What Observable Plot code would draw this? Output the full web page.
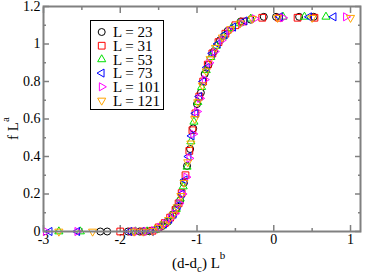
<!DOCTYPE html>
<html>
<head>
<meta charset="utf-8">
<script src="https://cdn.jsdelivr.net/npm/d3@7"></script>
<script src="https://cdn.jsdelivr.net/npm/@observablehq/plot@0.6"></script>
<style>
  html, body { margin: 0; padding: 0; background: #fff; }
  svg { display: block; }
  svg text { font-family: 'Liberation Serif', 'Times New Roman', serif; }
</style>
</head>
<body>
<div id="chart"></div>
<script>
// ---- Data ----
const seriesNames = ["L = 23", "L = 31", "L = 53", "L = 73", "L = 101", "L = 121"];

const x23 = [-2.26,-2.17,-1.9,-1.75,-1.62,-1.52,-1.45,-1.38,-1.32,-1.27,-1.22,-1.17,-1.13,-1.09,-1.05,-1.0,-0.95,-0.9,-0.85,-0.78,-0.7,-0.6,-0.43,-0.3,-0.13,0.03,0.33,0.52];
const y23 = [0,0,0,0,0.001,0.012,0.03,0.052,0.09,0.125,0.165,0.26,0.35,0.44,0.55,0.68,0.74,0.84,0.89,0.96,1.02,1.07,1.12,1.13,1.145,1.145,1.145,1.145];

const x31 = [-2.0,-1.85,-1.7,-1.58,-1.5,-1.42,-1.35,-1.28,-1.24,-1.2,-1.15,-1.1,-1.06,-1.02,-0.97,-0.92,-0.86,-0.8,-0.72,-0.63,-0.5,-0.4,-0.15,0.07,0.31,0.53];
const y31 = [0,0,0,0.004,0.022,0.045,0.074,0.115,0.15,0.205,0.3,0.43,0.54,0.63,0.72,0.8,0.89,0.95,1.01,1.055,1.1,1.12,1.14,1.14,1.14,1.14];

const x53 = [-2.8,-2.52,-1.8,-1.65,-1.55,-1.47,-1.4,-1.33,-1.27,-1.22,-1.18,-1.13,-1.08,-1.04,-0.99,-0.94,-0.88,-0.82,-0.75,-0.66,-0.55,-0.45,-0.3,0.12,0.4,0.68];
const y53 = [0,0,0,0,0.008,0.03,0.05,0.082,0.12,0.175,0.24,0.345,0.48,0.585,0.69,0.77,0.86,0.93,0.99,1.04,1.085,1.11,1.135,1.145,1.145,1.145];

const x73 = [-2.92,-2.56,-1.88,-1.72,-1.6,-1.5,-1.43,-1.36,-1.3,-1.25,-1.2,-1.16,-1.11,-1.07,-1.02,-0.97,-0.92,-0.87,-0.8,-0.73,-0.64,-0.53,-0.38,0.08,0.46,0.78];
const y73 = [0,0,0,0,0,0.02,0.04,0.066,0.096,0.138,0.2,0.275,0.4,0.51,0.63,0.72,0.8,0.875,0.95,1.0,1.05,1.09,1.123,1.145,1.145,1.145];

const x101 = [-2.97,-2.56,-1.78,-1.66,-1.56,-1.48,-1.41,-1.34,-1.29,-1.23,-1.19,-1.14,-1.1,-1.05,-1.0,-0.96,-0.9,-0.84,-0.77,-0.68,-0.58,-0.42,-0.25,0.12,0.94];
const y101 = [0,0,0,0,0.005,0.022,0.042,0.07,0.095,0.15,0.2,0.29,0.39,0.52,0.64,0.71,0.81,0.9,0.96,1.02,1.07,1.11,1.135,1.14,1.145];

const x121 = [-2.8,-2.36,-1.82,-1.7,-1.58,-1.5,-1.44,-1.37,-1.31,-1.26,-1.21,-1.17,-1.12,-1.08,-1.03,-0.99,-0.93,-0.88,-0.83,-0.76,-0.67,-0.56,-0.44,-0.28,0.05,0.5,1.0];
const y121 = [0,0,0,0,0.003,0.02,0.038,0.062,0.09,0.13,0.19,0.26,0.37,0.47,0.6,0.69,0.78,0.855,0.92,0.98,1.035,1.08,1.11,1.135,1.14,1.14,1.14];

const xMajor = [-3, -2, -1, 0, 1];
const xMinor = [-2.5, -1.5, -0.5, 0.5];
const yMajor = [0, 0.2, 0.4, 0.6, 0.8, 1, 1.2];
const yMinor = [0.1, 0.3, 0.5, 0.7, 0.9, 1.1];

// ---- Styles ----
const colors = ["#000000", "#ff0000", "#00e000", "#0000ff", "#ff00ff", "#ffa500"];
const symbols = ["circle", "square", "triangle", "triangle", "triangle", "triangle"];
const rotations = [0, 0, 0, -90, 90, 180];
const radii = [3.5, 3.8, 3, 3, 3, 3];
const xs = [x23, x31, x53, x73, x101, x121];
const ys = [y23, y31, y53, y73, y101, y121];
const axisColor = "#808080";

const tables = xs.map((xa, i) => xa.map((x, j) => ({x, y: ys[i][j], s: seriesNames[i]})));

const dotMarks = tables.map((t, i) => Plot.dot(t, {
  x: "x", y: "y", symbol: () => symbols[i], r: radii[i],
  stroke: colors[i], strokeWidth: 1, fill: "none", rotate: rotations[i]
}));

const tickOpts = {text: null, stroke: axisColor, strokeWidth: 1.5, label: null};

const chart = Plot.plot({
  width: 366,
  height: 276,
  marginLeft: 43,
  marginRight: 6,
  marginTop: 6,
  marginBottom: 45,
  style: {background: "#fff"},
  x: {domain: [-3, 1.13]},
  y: {domain: [0, 1.2]},
  symbol: {type: "identity"},
  marks: [
    // inward ticks, all four sides
    Plot.axisX({anchor: "bottom", ticks: xMajor, tickSize: -6, ...tickOpts}),
    Plot.axisX({anchor: "bottom", ticks: xMinor, tickSize: -3, ...tickOpts}),
    Plot.axisX({anchor: "top", ticks: xMajor, tickSize: -6, ...tickOpts}),
    Plot.axisX({anchor: "top", ticks: xMinor, tickSize: -3, ...tickOpts}),
    Plot.axisY({anchor: "left", ticks: yMajor, tickSize: -6, ...tickOpts}),
    Plot.axisY({anchor: "left", ticks: yMinor, tickSize: -3, ...tickOpts}),
    Plot.axisY({anchor: "right", ticks: yMajor, tickSize: -6, ...tickOpts}),
    Plot.axisY({anchor: "right", ticks: yMinor, tickSize: -3, ...tickOpts}),
    // tick labels
    Plot.axisX({anchor: "bottom", ticks: xMajor, tickSize: 0, tickPadding: 3, tickFormat: d => String(d), fontSize: 14, fill: "#000", label: null}),
    Plot.axisY({anchor: "left", ticks: yMajor, tickSize: 0, tickPadding: 3, tickFormat: d => String(d), fontSize: 14, fill: "#000", label: null}),
    ...dotMarks,
    Plot.frame({stroke: axisColor, strokeWidth: 2})
  ]
});

document.getElementById("chart").appendChild(chart);

// ---- Axis titles & legend (added to the Plot SVG) ----
const svg = d3.select(chart);

const xl = svg.append("text")
  .attr("x", 172).attr("y", 268).attr("text-anchor", "start")
  .attr("font-size", 15).attr("fill", "#000");
xl.append("tspan").text("(d-d");
xl.append("tspan").attr("font-size", 11).attr("dy", 4).text("c");
xl.append("tspan").attr("dy", -4).text(") L");
xl.append("tspan").attr("font-size", 11).attr("dy", -9).text("b");

const yl = svg.append("text")
  .attr("transform", "translate(18,140) rotate(-90)").attr("text-anchor", "start")
  .attr("font-size", 15).attr("fill", "#000");
yl.append("tspan").text("f L");
yl.append("tspan").attr("font-size", 11).attr("dy", -9).text("a");

const lg = svg.append("g");
lg.append("rect")
  .attr("x", 90.5).attr("y", 20.5).attr("width", 73).attr("height", 89)
  .attr("fill", "#fff").attr("stroke", "#000").attr("stroke-width", 1);
const symMap = {circle: d3.symbolCircle, square: d3.symbolSquare, triangle: d3.symbolTriangle};
seriesNames.forEach((name, i) => {
  const cy = 32 + i * 13.7;
  lg.append("path")
    .attr("d", d3.symbol(symMap[symbols[i]], Math.PI * radii[i] * radii[i])())
    .attr("transform", `translate(101.7,${cy}) rotate(${rotations[i]})`)
    .attr("fill", "none").attr("stroke", colors[i]).attr("stroke-width", 1);
  lg.append("text")
    .attr("x", 113).attr("y", cy).attr("dy", "0.35em").attr("text-anchor", "start")
    .attr("font-size", 15).attr("fill", "#000")
    .text(name);
});
</script>
</body>
</html>
